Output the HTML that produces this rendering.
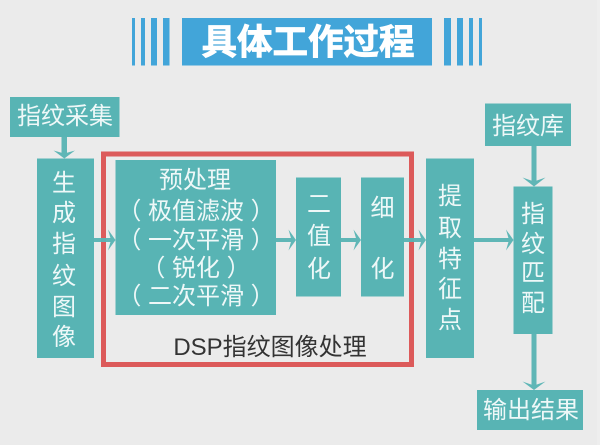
<!DOCTYPE html>
<html><head><meta charset="utf-8">
<style>
html,body{margin:0;padding:0;background:#ebebeb;width:600px;height:445px;overflow:hidden}
svg{display:block}
text{font-family:"Liberation Sans","Noto Sans CJK SC",sans-serif;font-size:24px;fill:#eef8f8;text-anchor:middle}
</style></head>
<body>
<svg width="600" height="445" viewBox="0 0 600 445" xmlns="http://www.w3.org/2000/svg">
<rect width="600" height="445" fill="#ebebeb"/>
<rect x="597" width="3" height="445" fill="#eeeeee"/>
<g fill="#42a5d9">
<rect x="182" y="18" width="250" height="47.5"/>
<rect x="132" y="18" width="3" height="47.5"/>
<rect x="141" y="18" width="4" height="47.5"/>
<rect x="151" y="18" width="6" height="47.5"/>
<rect x="163" y="18" width="6.5" height="47.5"/>
<rect x="444" y="18" width="7" height="47.5"/>
<rect x="457" y="18" width="6" height="47.5"/>
<rect x="469" y="18" width="4" height="47.5"/>
<rect x="479" y="18" width="3" height="47.5"/>
</g>
<text x="308" y="54" style="font-size:35.5px;font-weight:bold;fill:#fff;stroke:#fff;stroke-width:.8">具体工作过程</text>

<g fill="#58b4b4">
<rect x="10" y="97" width="109.5" height="40"/>
<rect x="37" y="158.5" width="57" height="199.5"/>
<rect x="115.5" y="160" width="160.5" height="155"/>
<rect x="296" y="177.5" width="45" height="119"/>
<rect x="361" y="177.5" width="43" height="119"/>
<rect x="426" y="158.5" width="48" height="199.5"/>
<rect x="485" y="103.5" width="86" height="42.5"/>
<rect x="513.5" y="186.5" width="39" height="147.5"/>
<rect x="477" y="390" width="106" height="40"/>
</g>

<rect x="103.5" y="154" width="308" height="210.5" fill="none" stroke="#dc5a5a" stroke-width="5"/>

<g fill="#58b4b4" opacity=".95">
<rect x="94" y="238" width="17" height="4"/>
<polygon points="115.5,240 108,229.5 111,240 108,250.5"/>
<rect x="276" y="238" width="16" height="4"/>
<polygon points="296,240 288.5,229.5 291.5,240 288.5,250.5"/>
<rect x="341" y="238" width="16" height="4"/>
<polygon points="361,240 353.5,229.5 356.5,240 353.5,250.5"/>
<rect x="404" y="238" width="18" height="4"/>
<polygon points="426,240 418.5,229.5 421.5,240 418.5,250.5"/>
<rect x="474" y="238" width="35" height="4"/>
<polygon points="513.5,240 506,229.5 509,240 506,250.5"/>
<rect x="61.5" y="137" width="5.5" height="18"/>
<polygon points="64.3,158.5 53.5,150.5 64.3,153.5 75,150.5"/>
<rect x="531.5" y="146" width="5" height="37"/>
<polygon points="534,186.5 522.5,177.5 534,181.5 545.5,177.5"/>
<rect x="531.5" y="334" width="5" height="52"/>
<polygon points="534,390 522.5,381.5 534,385.5 545.5,381.5"/>
</g>

<text x="65" y="124">指纹采集</text>
<text x="528" y="134">指纹库</text>
<text x="531" y="418">输出结果</text>

<text x="64" y="191">生</text>
<text x="64" y="221">成</text>
<text x="64" y="252">指</text>
<text x="64" y="284">纹</text>
<text x="64" y="315">图</text>
<text x="64" y="345">像</text>

<text x="195" y="188">预处理</text>
<text x="196" y="219" xml:space="preserve">（ 极值滤波 ）</text>
<text x="196" y="248" xml:space="preserve">（ 一次平滑 ）</text>
<text x="196" y="276" xml:space="preserve">（ 锐化 ）</text>
<text x="196" y="304" xml:space="preserve">（ 二次平滑 ）</text>

<text x="319" y="212">二</text>
<text x="319" y="244">值</text>
<text x="319" y="277">化</text>

<text x="382.5" y="216">细</text>
<text x="382.5" y="277">化</text>

<text x="450" y="204">提</text>
<text x="450" y="236">取</text>
<text x="450" y="267">特</text>
<text x="450" y="297">征</text>
<text x="450" y="328">点</text>

<text x="533" y="222">指</text>
<text x="533" y="252">纹</text>
<text x="533" y="281">匹</text>
<text x="533" y="311">配</text>

<text x="270" y="355" style="fill:#333">DSP指纹图像处理</text>
</svg>
</body></html>
